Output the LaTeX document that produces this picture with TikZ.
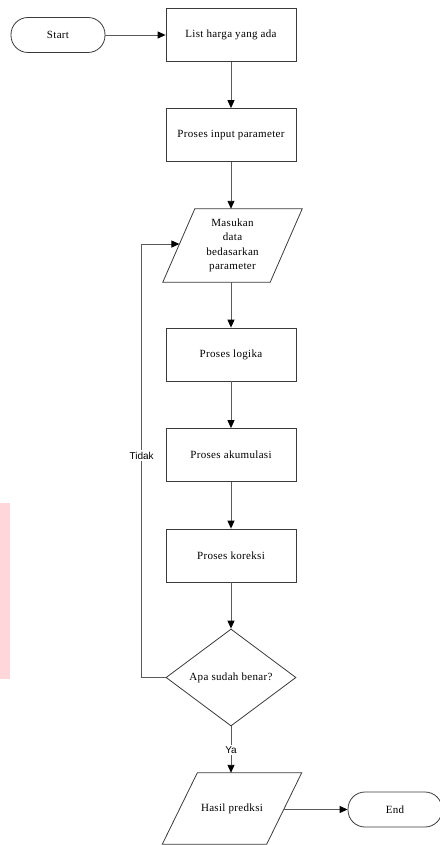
\documentclass[tikz,border=0pt]{standalone}
\usepackage{fontspec}
\setmainfont[LetterSpace=3]{Liberation Serif}
\newfontfamily\lblfont{Liberation Sans}
\usetikzlibrary{shapes.geometric,arrows.meta,calc}
\definecolor{linecol}{HTML}{5A5A5A}
\definecolor{bordercol}{HTML}{3A3A3A}
\definecolor{pinkbar}{HTML}{FFD7DA}
\tikzset{
  every node/.style={font=\fontsize{11}{14.5}\selectfont, text=black},
  procbox/.style={draw=bordercol, line width=0.8pt, rectangle, minimum width=130pt, minimum height=53pt, inner sep=0pt},
  termbox/.style={draw=bordercol, line width=0.8pt, rectangle, rounded corners=17pt, minimum width=94pt, minimum height=35pt, inner sep=0pt},
  iobox/.style={rectangle, minimum width=139pt, minimum height=73pt, inner sep=0pt, align=center},
  ioline/.style={draw=bordercol, line width=0.8pt},
  decbox/.style={draw=bordercol, line width=0.8pt, diamond, aspect=1.34, minimum width=130pt, minimum height=97pt, inner sep=0pt},
  flow/.style={draw=linecol, line width=0.9pt, -{Triangle[width=7pt,length=8pt,black]}},
  lbl/.style={font=\lblfont\fontsize{10}{11}\selectfont, fill=white, inner sep=1.5pt}
}
\begin{document}
\begin{tikzpicture}[x=1pt,y=-1pt]
\useasboundingbox (0,0) rectangle (439,845);
\fill[pinkbar] (0,503) rectangle (10,679);
\node[termbox] (start) at (58,35) {Start};
\node[procbox] (list) at (231,35) {List harga yang ada};
\node[procbox] (inp) at (231,135) {Proses input parameter};
\node[iobox] (mas) at (232.5,245.5) {Masukan\\data\\bedasarkan\\parameter};
\draw[ioline] ($(mas.north west)+(32,0)$) coordinate (masTL) -- (mas.north east) -- ($(mas.south east)+(-32,0)$) -- (mas.south west) -- cycle;
\coordinate (masin) at ($(mas.south west)!0.52!(masTL)$);
\node[procbox] (log) at (231,354.5) {Proses logika};
\node[procbox] (aku) at (231,455) {Proses akumulasi};
\node[procbox] (kor) at (231,555.5) {Proses koreksi};
\node[decbox] (dec) at (231,677.5) {Apa sudah benar?};
\node[iobox, minimum height=71pt] (has) at (232,808.5) {Hasil predksi};
\draw[ioline] ($(has.north west)+(35,0)$) -- (has.north east) -- ($(has.south east)+(-35,0)$) -- (has.south west) -- cycle;
\node[termbox] (end) at (395,809.5) {End};
\coordinate (hasout) at ($(has.east |- end.west)+(-17.5,0)$);
\draw[flow] (start) -- (list);
\draw[flow] (list) -- (inp);
\draw[flow] (inp) -- (mas.north -| inp.south);
\draw[flow] (mas.south -| inp.south) -- (log);
\draw[flow] (log) -- (aku);
\draw[flow] (aku) -- (kor);
\draw[flow] (kor) -- (dec);
\draw[flow] (dec.south) -- node[lbl] {Ya} (has.north -| dec.south);
\draw[flow] (hasout) -- (end.west);
\draw[flow] (dec.west) -- ++(-24,0) |- node[lbl, pos=0.256] {Tidak} (masin);
\end{tikzpicture}
\end{document}
